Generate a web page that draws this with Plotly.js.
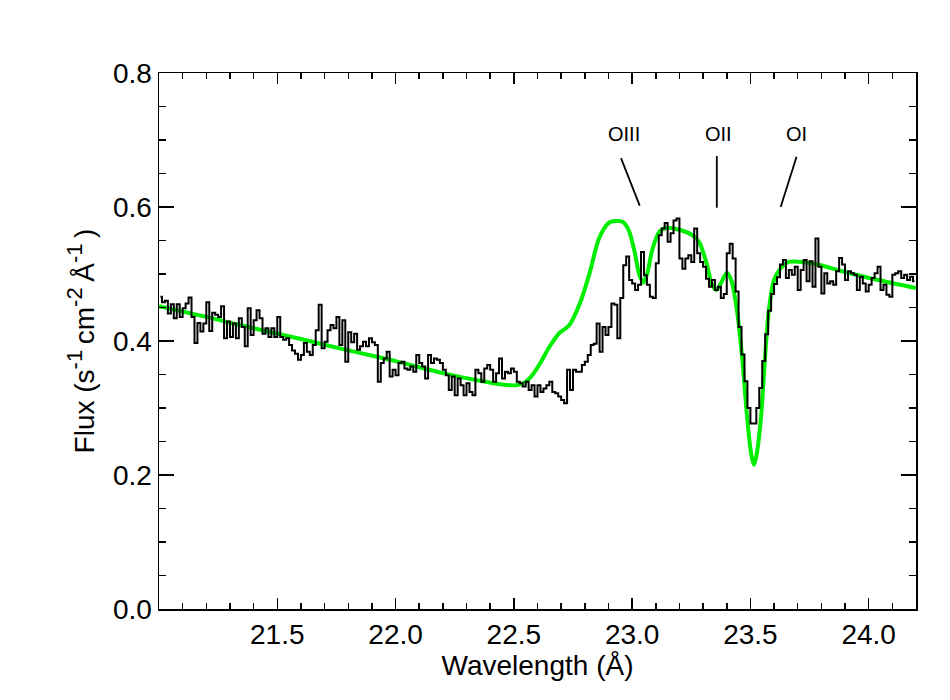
<!DOCTYPE html>
<html>
<head>
<meta charset="utf-8">
<script src="https://cdn.plot.ly/plotly-3.0.1.min.js"></script>
<style>html,body{margin:0;padding:0;background:#fff;}#chart{width:950px;height:700px;}</style>
</head>
<body>
<div id="chart"></div>
<script>
// Observed spectrum: flux per 0.0125 Å bin starting at 21.0 Å
var binStart = 21.0;
var binWidth = 0.0125;
var fluxObs = [
0.466,0.458,0.460,0.441,0.455,0.434,0.455,0.436,0.449,0.456,0.465,0.436,0.397,0.427,0.414,0.426,
0.458,0.415,0.442,0.439,0.436,0.452,0.404,0.429,0.406,0.426,0.404,0.434,0.421,0.392,0.449,0.409,
0.431,0.446,0.434,0.411,0.419,0.406,0.419,0.406,0.436,0.406,0.402,0.404,0.394,0.386,0.381,0.372,
0.379,0.397,0.384,0.379,0.394,0.416,0.454,0.389,0.399,0.416,0.424,0.419,0.436,0.394,0.431,0.369,
0.413,0.398,0.411,0.387,0.392,0.399,0.392,0.404,0.398,0.394,0.339,0.367,0.374,0.384,0.347,0.357,
0.349,0.367,0.369,0.359,0.357,0.362,0.354,0.379,0.367,0.362,0.344,0.379,0.367,0.374,0.372,0.367,
0.357,0.349,0.327,0.347,0.319,0.344,0.334,0.319,0.337,0.324,0.319,0.357,0.352,0.339,0.359,0.364,
0.357,0.339,0.352,0.374,0.344,0.354,0.352,0.359,0.354,0.339,0.337,0.332,0.339,0.327,0.334,0.317,
0.334,0.324,0.329,0.334,0.339,0.324,0.322,0.317,0.312,0.307,0.357,0.327,0.357,0.354,0.354,0.364,
0.369,0.379,0.394,0.396,0.426,0.384,0.421,0.409,0.421,0.456,0.454,0.404,0.464,0.513,0.526,0.491,
0.486,0.476,0.484,0.533,0.498,0.484,0.466,0.464,0.516,0.558,0.568,0.576,0.548,0.561,0.580,0.583,
0.523,0.508,0.523,0.528,0.518,0.568,0.531,0.518,0.511,0.493,0.481,0.491,0.476,0.481,0.464,0.470,
0.531,0.545,0.523,0.474,0.421,0.380,0.340,0.300,0.277,0.277,0.300,0.330,0.370,0.410,0.445,0.470,
0.485,0.495,0.514,0.521,0.494,0.506,0.499,0.511,0.476,0.506,0.521,0.489,0.519,0.481,0.553,0.511,
0.471,0.501,0.486,0.489,0.484,0.504,0.524,0.514,0.491,0.504,0.501,0.499,0.476,0.496,0.486,0.474,
0.484,0.494,0.501,0.511,0.476,0.484,0.469,0.466,0.499,0.501,0.504,0.494,0.499,0.491,0.496,0.489
];

// Model curve
var modelX = [21.0,21.2,21.4,21.6,21.8,22.0,22.2,22.35,22.45,22.51,22.55,22.58,22.61,22.65,22.69,22.735,
  22.78,22.82,22.86,22.90,22.93,22.96,22.985,23.01,23.03,23.047,23.064,23.085,23.115,23.145,23.2,23.254,
  23.283,23.313,23.338,23.355,23.375,23.40,23.42,23.443,23.465,23.486,23.503,23.515,23.527,23.545,23.562,
  23.578,23.60,23.629,23.663,23.76,23.90,24.04,24.2];
var modelY = [0.452,0.436,0.419,0.403,0.386,0.370,0.352,0.341,0.335,0.334,0.339,0.350,0.366,0.391,0.411,0.424,
  0.457,0.501,0.553,0.576,0.579,0.578,0.566,0.534,0.499,0.487,0.501,0.536,0.563,0.569,0.566,0.558,
  0.548,0.518,0.484,0.476,0.486,0.502,0.490,0.446,0.376,0.287,0.232,0.215,0.232,0.287,0.376,
  0.446,0.491,0.509,0.518,0.516,0.503,0.491,0.479];

// Line labels
var ionLabels = ["OIII","OII","OI"];
var ionTextX = [22.965, 23.365, 23.695];
var ionLineTop = [[22.953,0.673],[23.358,0.676],[23.695,0.675]];
var ionLineBot = [[23.032,0.602],[23.358,0.599],[23.628,0.600]];

var xTicks = [21.5,22.0,22.5,23.0,23.5,24.0];

var obsX = fluxObs.map(function(v,i){return binStart + binWidth*(i+0.5);});

var font = "'Liberation Sans', Arial, Helvetica, sans-serif";

var traces = [
  {x: modelX, y: modelY, type:'scatter', mode:'lines',
   line:{color:'#00ee00', width:4, shape:'spline', smoothing:0.8}, hoverinfo:'skip'},
  {x: obsX, y: fluxObs, type:'scatter', mode:'lines',
   line:{color:'#000000', width:2, shape:'hvh'}, hoverinfo:'skip'}
];

var annotations = ionLabels.map(function(t,i){
  return {x: ionTextX[i], y: 0.709, xref:'x', yref:'y', text:t, showarrow:false,
          font:{family:font, size:20, color:'#000'}};
});
var shapes = ionLabels.map(function(t,i){
  return {type:'line', xref:'x', yref:'y', x0: ionLineTop[i][0], y0: ionLineTop[i][1],
          x1: ionLineBot[i][0], y1: ionLineBot[i][1], line:{color:'#000', width:1.8}};
});

var sup = function(s){ return '<sup><span style="font-size:22px">' + s + '</span></sup>\u2009'; };

var layout = {
  width:950, height:700,
  margin:{l:159, r:34, t:73, b:91},
  paper_bgcolor:'#fff', plot_bgcolor:'#fff',
  showlegend:false,
  font:{family:font, size:28, color:'#000'},
  xaxis:{
    range:[21.0, 24.2], tickvals:xTicks, tickformat:'.1f',
    ticks:'inside', ticklen:11, tickwidth:1.5, tickcolor:'#000',
    showline:true, linecolor:'#000', linewidth:1.5, mirror:'ticks',
    showgrid:false, zeroline:false,
    tickfont:{family:font, size:28, color:'#000'},
    minor:{ticks:'inside', ticklen:6, tickwidth:1.5, tickcolor:'#000', dtick:0.1, tick0:21.0, showgrid:false},
    title:{text:'Wavelength (Å)', font:{family:font, size:28, color:'#000'}, standoff:2}
  },
  yaxis:{
    range:[0, 0.8], dtick:0.2, tick0:0, tickformat:'.1f',
    ticks:'inside', ticklen:15, tickwidth:1.5, tickcolor:'#000',
    showline:true, linecolor:'#000', linewidth:1.5, mirror:'ticks',
    showgrid:false, zeroline:false,
    tickfont:{family:font, size:28, color:'#000'},
    minor:{ticks:'inside', ticklen:7, tickwidth:1.5, tickcolor:'#000', dtick:0.05, tick0:0, showgrid:false},
    title:{text:'Flux (s' + sup('-1') + 'cm' + sup('-2') + 'Å' + sup('-1') + ')',
           font:{family:font, size:28, color:'#000'}, standoff:10}
  },
  annotations: annotations,
  shapes: shapes
};

Plotly.newPlot('chart', traces, layout, {displayModeBar:false, staticPlot:true});
</script>
</body>
</html>
